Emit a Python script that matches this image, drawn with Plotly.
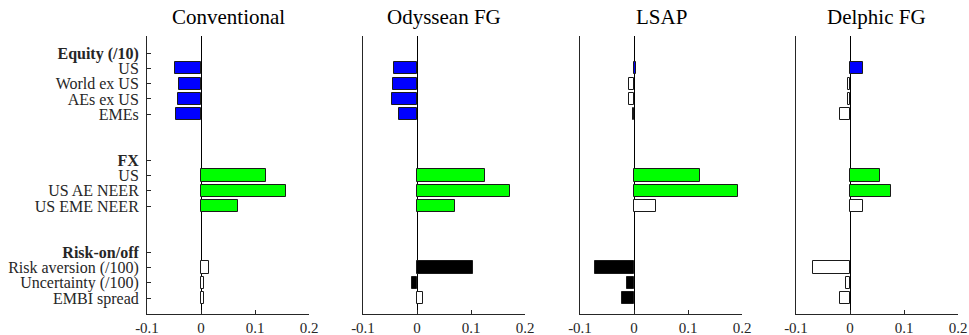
import plotly.graph_objects as go

# ---------------- data ----------------
shocks = ["Conventional", "Odyssean FG", "LSAP", "Delphic FG"]
groups = ["Equity (/10)", "FX", "Risk-on/off"]
equity_vars = ["US", "World ex US", "AEs ex US", "EMEs"]
fx_vars = ["US", "US AE NEER", "US EME NEER"]
risk_vars = ["Risk aversion (/100)", "Uncertainty (/100)", "EMBI spread"]

# responses (ordered: equity vars, fx vars, risk vars)
conventional = [-0.048, -0.041, -0.042, -0.046, 0.120, 0.157, 0.069, 0.015, 0.006, 0.006]
odyssean_fg = [-0.042, -0.045, -0.046, -0.034, 0.126, 0.173, 0.070, 0.104, -0.010, 0.011]
lsap = [0.003, -0.009, -0.009, -0.001, 0.123, 0.193, 0.041, -0.072, -0.013, -0.022]
delphic_fg = [0.024, -0.004, -0.003, -0.018, 0.055, 0.075, 0.024, -0.068, -0.007, -0.018]

# significance flags (1 = significant, filled bar)
conventional_sig = [1, 1, 1, 1, 1, 1, 1, 0, 0, 0]
odyssean_fg_sig = [1, 1, 1, 1, 1, 1, 1, 1, 1, 0]
lsap_sig = [1, 0, 0, 0, 1, 1, 0, 1, 1, 1]
delphic_fg_sig = [1, 0, 0, 0, 1, 1, 0, 0, 0, 0]

x_ticks = [-0.1, 0, 0.1, 0.2]
x_tick_labels = ["-0.1", "0", "0.1", "0.2"]

# ---------------- layout helpers ----------------
group_vars = [equity_vars, fx_vars, risk_vars]
group_colors = ["#0000FF", "#00FF00", "#000000"]

tick_pos, tick_text = [], []
bar_pos, bar_group = [], []
pos = 1
for g, (name, vs) in enumerate(zip(groups, group_vars)):
    tick_pos.append(pos)
    tick_text.append("<b>" + name + "</b>")
    pos += 1
    for v in vs:
        tick_pos.append(pos)
        tick_text.append(v)
        bar_pos.append(pos)
        bar_group.append(g)
        pos += 1
    pos += 2

series = [conventional, odyssean_fg, lsap, delphic_fg]
sigs = [conventional_sig, odyssean_fg_sig, lsap_sig, delphic_fg_sig]

W, H = 969, 335
left_px = [147, 363, 580, 796]
panel_w = 162
top_m, bot_m = 36, 21

FONT = "Liberation Serif"
AX = "#262626"

fig = go.Figure()
for i, (vals, sg) in enumerate(zip(series, sigs)):
    colors = [group_colors[bar_group[k]] if sg[k] else "#FFFFFF" for k in range(len(vals))]
    n = "" if i == 0 else str(i + 1)
    fig.add_trace(go.Bar(
        x=vals, y=bar_pos, orientation="h", width=0.8,
        marker=dict(color=colors, line=dict(color="#1a1a1a", width=1)),
        xaxis="x" + n, yaxis="y" + n, showlegend=False,
    ))
    d0 = left_px[i] / W
    d1 = (left_px[i] + panel_w) / W
    fig.layout["xaxis" + n] = dict(
        domain=[d0, d1], range=[-0.1, 0.2], anchor="y" + n, automargin=False,
        tickvals=x_ticks, ticktext=x_tick_labels,
        ticks="inside", ticklen=4, tickcolor=AX,
        showline=True, linecolor=AX, linewidth=1,
        showgrid=False, zeroline=True, zerolinecolor="#000000", zerolinewidth=1,
        tickfont=dict(family=FONT, size=15, color=AX), fixedrange=True,
    )
    fig.layout["yaxis" + n] = dict(
        domain=[0, 1], range=[18.04, -0.11], anchor="x" + n, automargin=False,
        tickvals=tick_pos if i == 0 else [], ticktext=tick_text if i == 0 else [],
        ticks="inside" if i == 0 else "", ticklen=4, tickcolor=AX,
        showticklabels=(i == 0), ticklabelstandoff=4,
        showline=True, linecolor=AX, linewidth=1,
        showgrid=False, zeroline=False,
        tickfont=dict(family=FONT, size=16, color=AX), fixedrange=True,
    )
    fig.add_annotation(
        text=shocks[i], xref="paper", yref="paper",
        x=(d0 + d1) / 2, y=1, yshift=19, xanchor="center", yanchor="middle",
        showarrow=False, font=dict(family=FONT, size=21, color="#000000"),
    )

fig.update_layout(
    width=W, height=H, margin=dict(l=0, r=0, t=top_m, b=bot_m),
    paper_bgcolor="white", plot_bgcolor="white", bargap=0,
)
fig.write_html("out.html")
